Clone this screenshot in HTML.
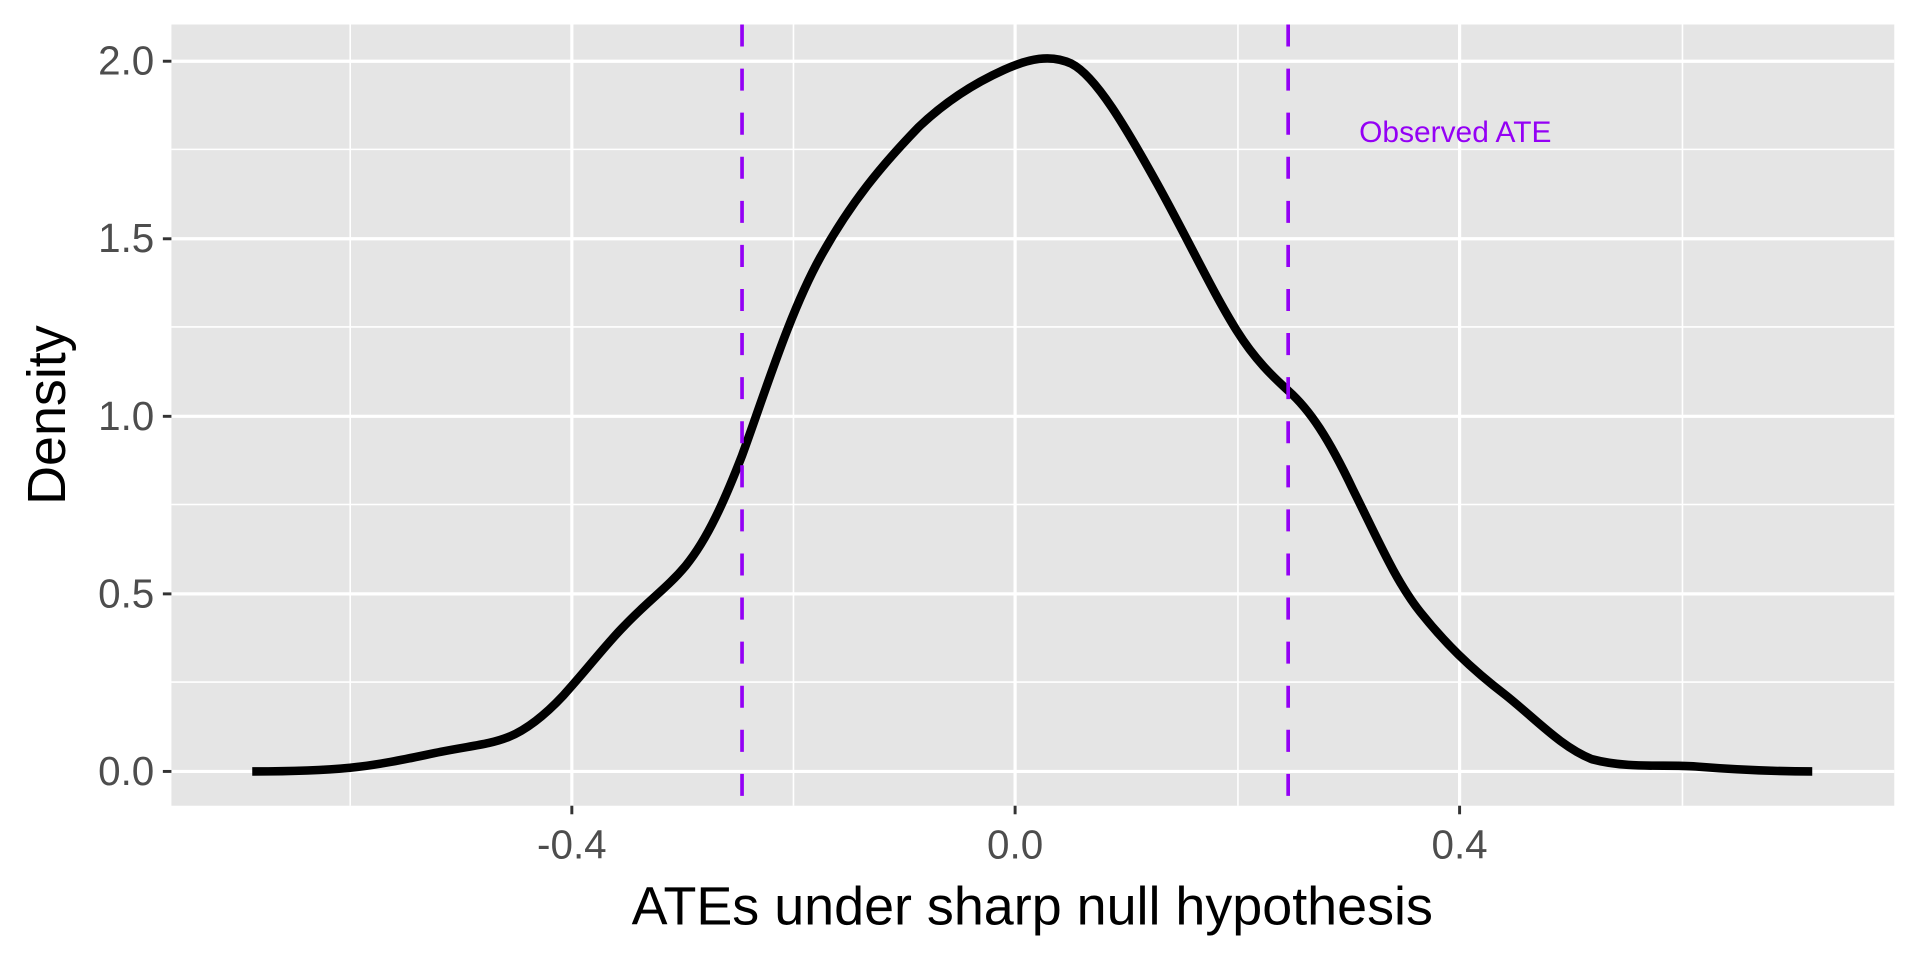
<!DOCTYPE html>
<html><head><style>html,body{margin:0;padding:0;background:#fff;}svg{display:block}</style></head>
<body>
<svg width="1920" height="960" viewBox="0 0 1568 784" preserveAspectRatio="none" xmlns="http://www.w3.org/2000/svg" font-family="Liberation Sans, Arial, sans-serif">
<rect x="0" y="0" width="1568" height="784" fill="#fff"/>
<rect x="140" y="20" width="1407" height="638" fill="#e5e5e5"/>
<g stroke="#fff" stroke-width="1.3">
<line x1="140" x2="1547" y1="557" y2="557"/><line x1="140" x2="1547" y1="412" y2="412"/>
<line x1="140" x2="1547" y1="267" y2="267"/><line x1="140" x2="1547" y1="122" y2="122"/>
<line x1="286" x2="286" y1="20" y2="658"/><line x1="648" x2="648" y1="20" y2="658"/>
<line x1="1011" x2="1011" y1="20" y2="658"/><line x1="1374" x2="1374" y1="20" y2="658"/>
</g>
<g stroke="#fff" stroke-width="2.6">
<line x1="140" x2="1547" y1="630" y2="630"/><line x1="140" x2="1547" y1="485" y2="485"/>
<line x1="140" x2="1547" y1="340" y2="340"/><line x1="140" x2="1547" y1="195" y2="195"/>
<line x1="140" x2="1547" y1="50" y2="50"/>
<line x1="467" x2="467" y1="20" y2="658"/><line x1="829" x2="829" y1="20" y2="658"/>
<line x1="1192" x2="1192" y1="20" y2="658"/>
</g>
<path d="M206,630 C240,630 265,629 286,627 C315,624 340,618 360,614 C385,609 400,608 415,602 C430,596 445,584 460,568 C480,546 495,526 510,511 C530,490 545,480 560,462 C578,440 592,408 606,372 C625,320 645,255 670,210 C695,165 720,135 750,104 C775,80 800,66 820,57 C840,48 858,44 875,52 C895,62 920,105 945,150 C970,195 990,238 1010,270 C1025,294 1040,308 1052,319 C1070,335 1085,358 1105,400 C1125,440 1140,475 1160,500 C1180,525 1200,545 1230,568 C1255,588 1275,610 1300,620 C1330,628 1360,624 1385,626 C1410,628 1440,630 1480,630" fill="none" stroke="#000" stroke-width="7"/>
<g stroke="#9400f5" stroke-width="3" stroke-dasharray="18,18">
<line x1="606" x2="606" y1="20" y2="658"/><line x1="1052" x2="1052" y1="20" y2="658"/>
</g>
<text x="1110" y="116" font-size="24" fill="#9400f5" textLength="157" lengthAdjust="spacingAndGlyphs">Observed ATE</text>
<g stroke="#333" stroke-width="2.4">
<line x1="133" x2="140" y1="630" y2="630"/><line x1="133" x2="140" y1="485" y2="485"/>
<line x1="133" x2="140" y1="340" y2="340"/><line x1="133" x2="140" y1="195" y2="195"/>
<line x1="133" x2="140" y1="50" y2="50"/>
<line x1="467" x2="467" y1="658" y2="665"/><line x1="829" x2="829" y1="658" y2="665"/>
<line x1="1192" x2="1192" y1="658" y2="665"/>
</g>
<g font-size="33" fill="#4d4d4d" text-anchor="end">
<text x="126" y="641">0.0</text><text x="126" y="496">0.5</text><text x="126" y="351">1.0</text>
<text x="126" y="206">1.5</text><text x="126" y="61">2.0</text>
</g>
<g font-size="33" fill="#4d4d4d" text-anchor="middle">
<text x="467" y="701">-0.4</text><text x="829" y="701">0.0</text><text x="1192" y="701">0.4</text>
</g>
<text x="843" y="755" font-size="44" text-anchor="middle" fill="#000">ATEs under sharp null hypothesis</text>
<text transform="translate(53,339) rotate(-90)" font-size="44" text-anchor="middle" fill="#000">Density</text>
</svg>
</body></html>
